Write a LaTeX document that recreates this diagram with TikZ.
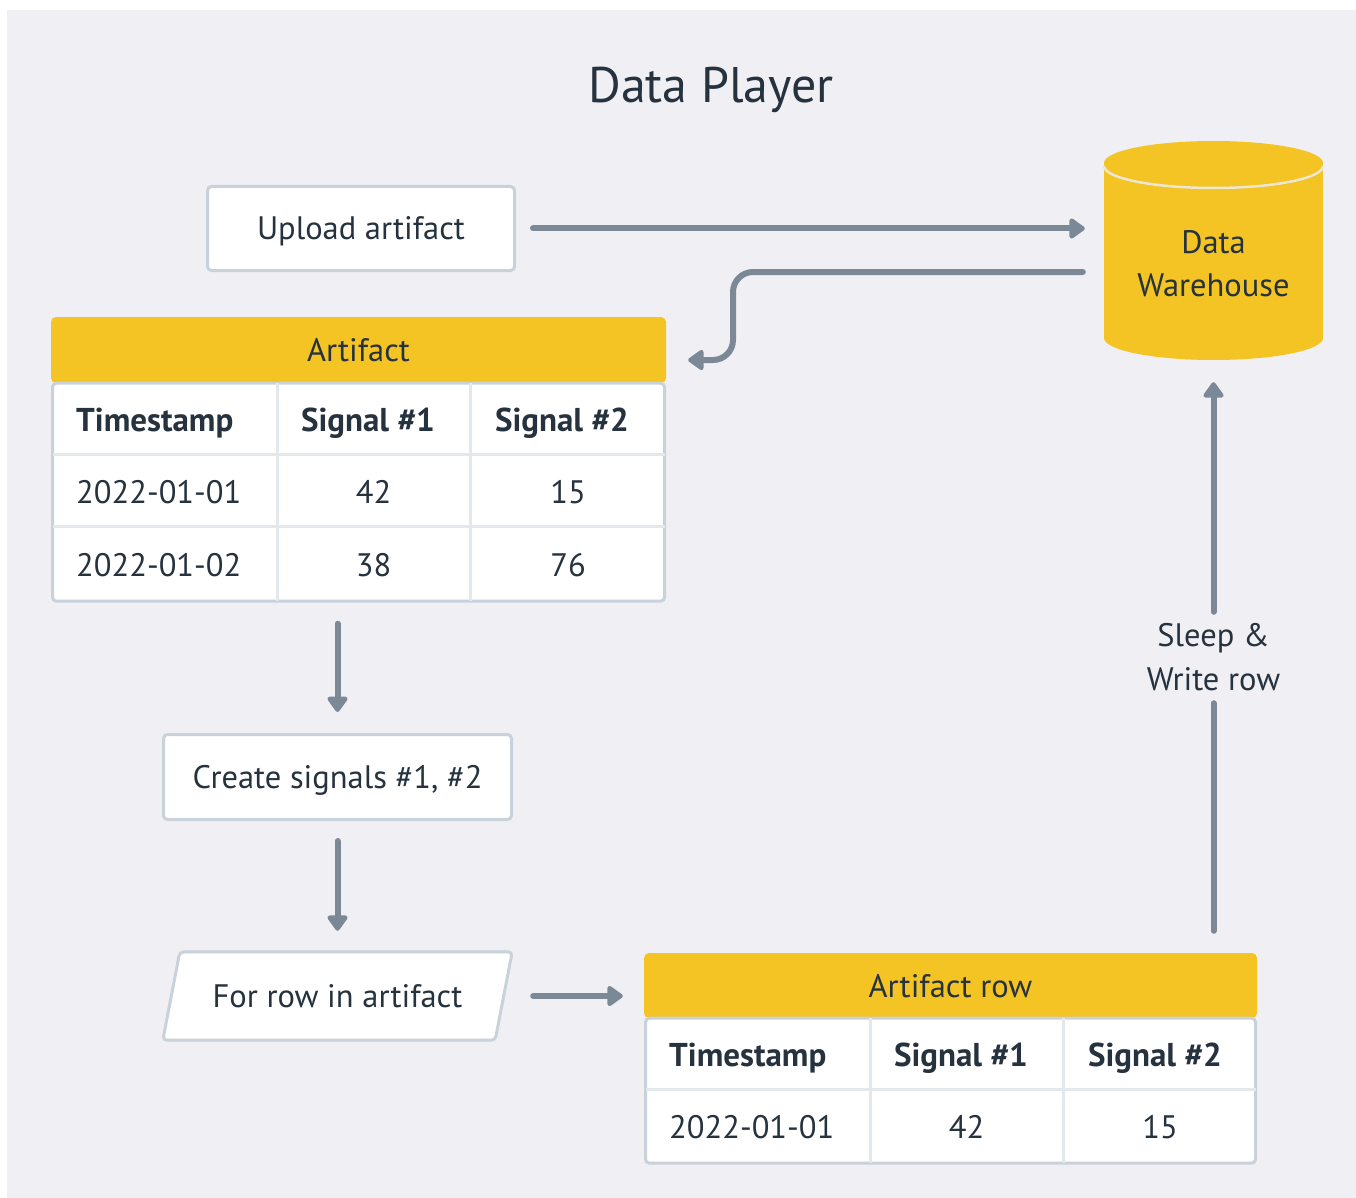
\documentclass[tikz,border=0pt]{standalone}
\usepackage{fontspec}
\setmainfont{PT Sans}
\usetikzlibrary{arrows.meta,calc,backgrounds}
\definecolor{pagebg}{HTML}{F0F0F4}
\definecolor{ink}{HTML}{26323E}
\definecolor{wire}{HTML}{7B8997}
\definecolor{edge}{HTML}{C9D1DA}
\definecolor{rule}{HTML}{E3E8ED}
\definecolor{gold}{HTML}{F4C324}
\definecolor{rim}{HTML}{EDE6D0}

\begin{document}
\begin{tikzpicture}[x=1pt,y=-1pt,
  every node/.style={text=ink, font=\fontsize{32.5}{39}\selectfont, inner sep=0pt},
  cell/.style={text height=23pt, text depth=0pt},
  headcell/.style={cell, font=\fontsize{33}{39}\selectfont\bfseries},
  procbox/.style={draw=edge, line width=3pt, fill=white, rounded corners=4pt, cell},
  outline/.style={draw=edge, line width=3pt, fill=white, rounded corners=4pt},
  flow/.style={draw=wire, line width=6pt, line cap=round,
    -{Triangle[width=23pt,length=17pt,round]}},
  plainwire/.style={draw=wire, line width=6pt, line cap=round},
  tabhead/.style={fill=gold, rounded corners=5pt, cell},
  tabbody/.style={draw=edge, line width=3pt, fill=white, rounded corners=4pt},
  gridline/.style={draw=rule, line width=3pt},
]
\useasboundingbox (0,0) rectangle (1356,1198);
\begin{scope}[on background layer]
  \fill[white] (0,0) rectangle (1356,1198);
  \fill[pagebg] (7,10) rectangle (1356,1198);
\end{scope}

% title
\node[font=\fontsize{50}{58}\selectfont] (title) at (711,90) {Data Player};

% data warehouse cylinder
\fill[gold] (1104,163) rectangle (1323,338);
\fill[gold] (1213.5,338) ellipse[x radius=109.5, y radius=22];
\fill[gold] (1213.5,163) ellipse[x radius=109.5, y radius=22];
\draw[rim, line width=2.5pt] (1104,166) arc[start angle=180, end angle=0, x radius=109.5, y radius=22];
\node[minimum width=219, minimum height=219] (dw) at (1213.5,250.5) {};
\node[align=center, font=\fontsize{32.5}{43}\selectfont] (dwlabel) at (1213.5,263.5) {Data\\Warehouse};

% upload step
\node[procbox, minimum width=307, minimum height=84] (upload) at (361,228.5) {Upload artifact};

% artifact table
\node[tabhead, minimum width=615, minimum height=66] (art) at (358.5,350) {Artifact};
\node[tabbody, minimum width=612, minimum height=218, anchor=north] (artbody) at ([yshift=1.5pt]art.south) {};
\draw[gridline] ($(artbody.north west)+(1.5,73)$) -- ($(artbody.north east)+(-1.5,73)$);
\draw[gridline] ($(artbody.north west)+(1.5,145)$) -- ($(artbody.north east)+(-1.5,145)$);
\draw[gridline] ($(artbody.north west)+(226,1.5)$) -- ($(artbody.south west)+(226,-1.5)$);
\draw[gridline] ($(artbody.north west)+(419,1.5)$) -- ($(artbody.south west)+(419,-1.5)$);
\node[headcell, anchor=west] (aTs) at (76,419.5) {Timestamp};
\node[headcell] (aS1) at (368,419.5) {Signal \#1};
\node[headcell] (aS2) at (562,419.5) {Signal \#2};
\node[cell, anchor=west] (aT1) at (76,492) {2022-01-01};
\node[cell] (aA1) at (373.5,492) {42};
\node[cell] (aB1) at (568,492) {15};
\node[cell, anchor=west] (aT2) at (76,564.5) {2022-01-02};
\node[cell] (aA2) at (373.5,564.5) {38};
\node[cell] (aB2) at (568,564.5) {76};

% create signals step
\node[procbox, minimum width=348, minimum height=85] (create) at (337.5,777) {Create signals \#1, \#2};

% loop over rows (parallelogram)
\node[cell, minimum width=349, minimum height=88] (loop) at (337.5,996) {For row in artifact};
\begin{scope}[on background layer]
  \draw[outline] ([xshift=17pt]loop.north west) -- (loop.north east)
    -- ([xshift=-17pt]loop.south east) -- (loop.south west) -- cycle;
\end{scope}

% artifact row table
\node[tabhead, minimum width=613, minimum height=65] (row) at (950.5,985.5) {Artifact row};
\node[tabbody, minimum width=610, minimum height=145, anchor=north] (rowbody) at ([yshift=1.5pt]row.south) {};
\draw[gridline] ($(rowbody.north west)+(1.5,73)$) -- ($(rowbody.north east)+(-1.5,73)$);
\draw[gridline] ($(rowbody.north west)+(226,1.5)$) -- ($(rowbody.south west)+(226,-1.5)$);
\draw[gridline] ($(rowbody.north west)+(419,1.5)$) -- ($(rowbody.south west)+(419,-1.5)$);
\node[headcell, anchor=west] (rTs) at (669,1054.5) {Timestamp};
\node[headcell] (rS1) at (961,1054.5) {Signal \#1};
\node[headcell] (rS2) at (1155,1054.5) {Signal \#2};
\node[cell, anchor=west] (rT1) at (669,1127) {2022-01-01};
\node[cell] (rA1) at (966.5,1127) {42};
\node[cell] (rB1) at (1160,1127) {15};

% sleep label on the write-back wire
\node[align=center, minimum height=91, font=\fontsize{32.5}{44}\selectfont] (sleep) at (1213.5,657.5) {Sleep \&\\Write row};

% connectors
\draw[flow] ([xshift=17pt]upload.east) -- ([xshift=-19pt]dw.west |- upload.east);
\coordinate (retA) at ($(dw.west)+(-21,21.5)$);
\coordinate (retB) at ($(art.east)+(22,10)$);
\coordinate (bend) at (733,0);
\draw[flow, rounded corners=20pt] (retA) -- (retA -| bend) -- (bend |- retB) -- (retB);
\draw[flow] ([yshift=-21pt]artbody.south -| create.north) -- ([yshift=21pt]create.north);
\draw[flow] ([yshift=-20pt]create.south) -- ([yshift=21pt]loop.north);
\draw[flow] ([xshift=21pt]loop.east) -- ([xshift=-21pt]row.west |- loop.east);
\draw[plainwire] ([yshift=22pt]row.north -| sleep.south) -- (sleep.south);
\draw[flow] (sleep.north) -- ([yshift=-22pt]dw.south);
\end{tikzpicture}
\end{document}
